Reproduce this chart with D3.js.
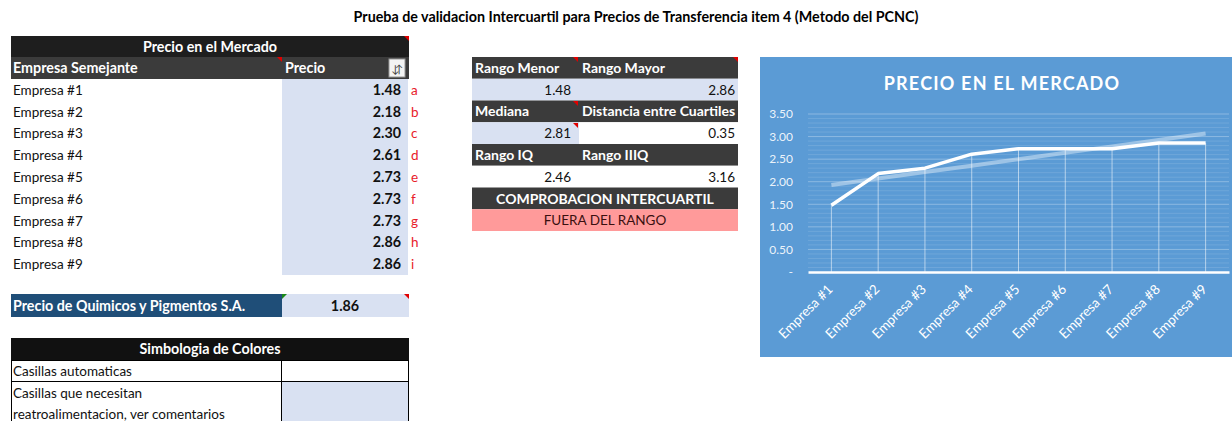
<!DOCTYPE html>
<html>
<head>
<meta charset="utf-8">
<script src="https://cdn.jsdelivr.net/npm/d3@7"></script>
<style>
  body { margin: 0; background: #fff; }
  svg { display: block; font-family: Lato, "Open Sans", sans-serif; }
</style>
</head>
<body>
<svg id="sheet" width="1232" height="421"></svg>
<script>
// data read from the sheet
const empresas = ['Empresa #1', 'Empresa #2', 'Empresa #3', 'Empresa #4', 'Empresa #5',
  'Empresa #6', 'Empresa #7', 'Empresa #8', 'Empresa #9']
const precios = [1.48, 2.18, 2.30, 2.61, 2.73, 2.73, 2.73, 2.86, 2.86]
const letras = ['a', 'b', 'c', 'd', 'e', 'f', 'g', 'h', 'i']
const precioQyP = 1.86
const resumenLabels = [['Rango Menor', 'Rango Mayor'], ['Mediana', 'Distancia entre Cuartiles'], ['Rango IQ', 'Rango IIIQ']]
const resumenValues = [[1.48, 2.86], [2.81, 0.35], [2.46, 3.16]]
const yTicks = [0, 0.5, 1, 1.5, 2, 2.5, 3, 3.5]

const svg = d3.select('#sheet')
const fmt = d3.format('.2f')
const dark = '#1e1e1e', dark2 = '#3b3b3b', lblue = '#d9e1f2'
const fs = 13.5, fsb = 14.3 // regular / bold sizes

const corner = (x, y, color = '#e00000') => {
  svg.append('path').attr('d', `M${x - 5},${y} L${x},${y} L${x},${y + 5} Z`).attr('fill', color)
}

// title
svg.append('text').attr('x', 636).attr('y', 22).attr('text-anchor', 'middle')
  .attr('font-size', fsb).attr('font-weight', 'bold').attr('fill', '#000')
  .text('Prueba de validacion Intercuartil para Precios de Transferencia item 4 (Metodo del PCNC)')

// ---- left table
svg.append('rect').attr('x', 11).attr('y', 36).attr('width', 398).attr('height', 21).attr('fill', dark)
svg.append('text').attr('x', 210).attr('y', 52).attr('text-anchor', 'middle').attr('fill', '#fff')
  .attr('font-size', fsb).attr('font-weight', 'bold').text('Precio en el Mercado')
corner(409, 36)
svg.append('rect').attr('x', 11).attr('y', 57).attr('width', 398).attr('height', 22).attr('fill', dark2)
svg.append('text').attr('x', 13).attr('y', 73).attr('fill', '#fff').attr('font-size', fsb)
  .attr('font-weight', 'bold').text('Empresa Semejante')
svg.append('text').attr('x', 285).attr('y', 73).attr('fill', '#fff').attr('font-size', fsb)
  .attr('font-weight', 'bold').text('Precio')
corner(282, 57)
// filter button
svg.append('rect').attr('x', 389).attr('y', 59).attr('width', 16).attr('height', 18)
  .attr('fill', '#f4f4f4').attr('stroke', '#999')
svg.append('text').attr('x', 397).attr('y', 73).attr('text-anchor', 'middle').attr('font-size', 11)
  .attr('fill', '#444').text('\u2193\u2191').attr('textLength', 12)

const rowY = d3.scaleBand().domain(d3.range(empresas.length)).range([79, 275])
svg.append('rect').attr('x', 282).attr('y', 79).attr('width', 126).attr('height', 196).attr('fill', lblue)
const rows = svg.selectAll('.row').data(empresas).enter().append('g')
  .attr('transform', (d, i) => `translate(0, ${rowY(i) + rowY.bandwidth() / 2 + 5})`)
rows.append('text').attr('x', 13).attr('font-size', fs).attr('fill', '#111').text(d => d)
rows.append('text').attr('x', 401).attr('text-anchor', 'end').attr('font-size', fsb)
  .attr('font-weight', 'bold').attr('fill', '#111').text((d, i) => fmt(precios[i]))
rows.append('text').attr('x', 411).attr('font-size', fs).attr('fill', '#e8202a').text((d, i) => letras[i])

// Quimicos y Pigmentos row
svg.append('rect').attr('x', 11).attr('y', 294).attr('width', 271).attr('height', 23).attr('fill', '#1f4e78')
svg.append('text').attr('x', 13).attr('y', 311).attr('fill', '#fff').attr('font-size', fsb)
  .attr('font-weight', 'bold').text('Precio de Quimicos y Pigmentos S.A.')
svg.append('rect').attr('x', 282).attr('y', 294).attr('width', 127).attr('height', 23).attr('fill', lblue)
svg.append('text').attr('x', 345).attr('y', 311).attr('text-anchor', 'middle').attr('font-size', fsb)
  .attr('font-weight', 'bold').attr('fill', '#111').text(fmt(precioQyP))
svg.append('path').attr('d', 'M282,294 L287,294 L282,299 Z').attr('fill', '#1a8a1a')
corner(409, 294)

// Simbologia
svg.append('rect').attr('x', 11).attr('y', 338).attr('width', 398).attr('height', 22).attr('fill', '#111')
svg.append('text').attr('x', 210).attr('y', 354).attr('text-anchor', 'middle').attr('fill', '#fff')
  .attr('font-size', fsb).attr('font-weight', 'bold').text('Simbologia de Colores')
svg.append('rect').attr('x', 11.5).attr('y', 360.5).attr('width', 270).attr('height', 21).attr('fill', '#fff').attr('stroke', '#000')
svg.append('rect').attr('x', 281.5).attr('y', 360.5).attr('width', 127).attr('height', 21).attr('fill', '#fff').attr('stroke', '#000')
svg.append('rect').attr('x', 11.5).attr('y', 381.5).attr('width', 270).attr('height', 50).attr('fill', '#fff').attr('stroke', '#000')
svg.append('rect').attr('x', 281.5).attr('y', 381.5).attr('width', 127).attr('height', 50).attr('fill', lblue).attr('stroke', '#000')
svg.append('text').attr('x', 13).attr('y', 376).attr('font-size', fs).attr('fill', '#111').text('Casillas automaticas')
svg.append('text').attr('x', 13).attr('y', 398).attr('font-size', fs).attr('fill', '#111').text('Casillas que necesitan')
svg.append('text').attr('x', 13).attr('y', 419).attr('font-size', fs).attr('fill', '#111').text('reatroalimentacion, ver comentarios')

// ---- middle table
const mx0 = 472, mx1 = 579, mx2 = 738
const mfs = 14
const mRow = d3.scaleBand().domain(d3.range(8)).range([57, 231])
resumenLabels.forEach((pair, k) => {
  const yh = mRow(k * 2), yv = mRow(k * 2 + 1), h = mRow.bandwidth()
  svg.append('rect').attr('x', mx0).attr('y', yh).attr('width', mx2 - mx0).attr('height', h).attr('fill', dark2)
  svg.append('text').attr('x', mx0 + 3).attr('y', yh + h / 2 + 5).attr('fill', '#fff').attr('font-size', mfs)
    .attr('font-weight', 'bold').text(pair[0])
  svg.append('text').attr('x', mx1 + 3).attr('y', yh + h / 2 + 5).attr('fill', '#fff').attr('font-size', mfs)
    .attr('font-weight', 'bold').text(pair[1])
  const leftFill = k < 2 ? lblue : '#fff'
  const rightFill = k === 0 ? lblue : '#fff'
  svg.append('rect').attr('x', mx0).attr('y', yv).attr('width', mx1 - mx0).attr('height', h).attr('fill', leftFill)
  svg.append('rect').attr('x', mx1).attr('y', yv).attr('width', mx2 - mx1).attr('height', h).attr('fill', rightFill)
  svg.append('text').attr('x', mx1 - 8).attr('y', yv + h / 2 + 5).attr('text-anchor', 'end')
    .attr('font-size', fs).attr('fill', '#111').text(fmt(resumenValues[k][0]))
  svg.append('text').attr('x', mx2 - 3).attr('y', yv + h / 2 + 5).attr('text-anchor', 'end')
    .attr('font-size', fs).attr('fill', '#111').text(fmt(resumenValues[k][1]))
})
corner(578, 57); corner(738, 57); corner(578, 101); corner(578, 123)
svg.append('rect').attr('x', mx0).attr('y', mRow(6)).attr('width', mx2 - mx0).attr('height', mRow.bandwidth()).attr('fill', dark2)
svg.append('text').attr('x', (mx0 + mx2) / 2).attr('y', mRow(6) + 16).attr('text-anchor', 'middle')
  .attr('fill', '#fff').attr('font-size', mfs).attr('font-weight', 'bold').text('COMPROBACION INTERCUARTIL')
svg.append('rect').attr('x', mx0).attr('y', mRow(7)).attr('width', mx2 - mx0).attr('height', mRow.bandwidth()).attr('fill', '#ff9a9a')
svg.append('text').attr('x', (mx0 + mx2) / 2).attr('y', mRow(7) + 16).attr('text-anchor', 'middle')
  .attr('fill', '#3a1010').attr('font-size', fs).text('FUERA DEL RANGO')

// ---- chart
const chart = svg.append('g')
chart.append('rect').attr('x', 760).attr('y', 57).attr('width', 472).attr('height', 300).attr('fill', '#5b9bd5')
chart.append('text').attr('x', 1002).attr('y', 90).attr('text-anchor', 'middle').attr('fill', '#fff')
  .attr('font-size', 18).attr('font-weight', 'bold').attr('letter-spacing', 1.2).text('PRECIO EN EL MERCADO')

const x = d3.scaleBand().domain(empresas).range([808, 1229])
const y = d3.scaleLinear().domain([0, 3.5]).range([272, 114])

// minor + major gridlines
chart.append('g').selectAll('line').data(d3.range(1, 36).map(v => v / 10)).enter().append('line')
  .attr('x1', 808).attr('x2', 1229).attr('y1', d => y(d)).attr('y2', d => y(d))
  .attr('stroke', '#fff').attr('stroke-opacity', d => Math.abs(d * 2 - Math.round(d * 2)) < 1e-6 ? 0.3 : 0.12)

const yAxis = chart.append('g').attr('transform', 'translate(808,0)')
  .call(d3.axisLeft(y).tickValues(yTicks).tickSize(0).tickPadding(15).tickFormat(d => d === 0 ? '-' : fmt(d)))
yAxis.select('.domain').remove()
yAxis.selectAll('text').attr('fill', '#fff').attr('fill-opacity', 0.9).attr('font-size', 12).attr('font-family', 'Lato, sans-serif')

// drop lines
const cx = d => x(d) + x.bandwidth() / 2
chart.append('g').selectAll('line').data(empresas).enter().append('line')
  .attr('x1', cx).attr('x2', cx).attr('y1', (d, i) => y(precios[i])).attr('y2', y(0))
  .attr('stroke', '#fff').attr('stroke-opacity', 0.55).attr('stroke-width', 1)

// x axis
const xAxis = chart.append('g').attr('transform', `translate(0, ${y(0)})`)
  .call(d3.axisBottom(x).tickSize(0).tickPadding(6))
xAxis.select('.domain').attr('stroke', '#fff').attr('stroke-width', 2.5)
xAxis.selectAll('text').attr('fill', '#fff').attr('font-size', 13.5).attr('font-family', 'Lato, sans-serif')
  .attr('text-anchor', 'end').attr('dy', '0.3em')
  .attr('transform', 'translate(-5,11) rotate(-45)')

// linear trend of the prices
const xs = d3.range(1, precios.length + 1)
const mX = d3.mean(xs), mY = d3.mean(precios)
const slope = d3.sum(xs, (v, i) => (v - mX) * (precios[i] - mY)) / d3.sum(xs, v => (v - mX) ** 2)
const trend = i => mY + slope * (i + 1 - mX)
chart.append('path').datum(empresas)
  .attr('d', d3.line().x(cx).y((d, i) => y(trend(i))))
  .attr('fill', 'none').attr('stroke', '#fff').attr('stroke-opacity', 0.4).attr('stroke-width', 4)

chart.append('path').datum(empresas)
  .attr('d', d3.line().x(cx).y((d, i) => y(precios[i])))
  .attr('fill', 'none').attr('stroke', '#fff').attr('stroke-width', 3.5).attr('stroke-linejoin', 'round')
</script>
</body>
</html>
